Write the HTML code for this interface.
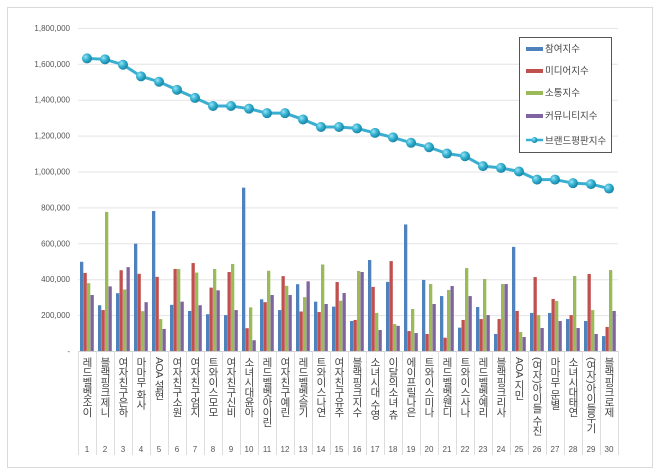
<!DOCTYPE html>
<html><head><meta charset="utf-8"><style>
body{margin:0;background:#fff;width:660px;height:475px;overflow:hidden;position:relative;font-family:"Liberation Sans","Noto Sans CJK KR",sans-serif}
.lb{position:absolute;top:357px;width:18px;height:88px;overflow:hidden;writing-mode:vertical-rl;text-orientation:mixed;font-size:10.5px;color:#444;line-height:18px;text-align:left;letter-spacing:-0.5px;font-family:"Liberation Sans","Noto Sans CJK KR",sans-serif}
</style></head><body>
<svg id="s" width="660" height="475" style="position:absolute;left:0;top:0" xmlns="http://www.w3.org/2000/svg">
<defs><radialGradient id="g" cx="35%" cy="35%" r="65%"><stop offset="0" stop-color="#9fe3f3"/><stop offset="0.5" stop-color="#35b3d3"/><stop offset="1" stop-color="#1b86a6"/></radialGradient></defs>
<rect x="7.5" y="7.5" width="645" height="460" fill="#fff" stroke="#d9d9d9"/>
<g id="grid"></g><g id="bars"></g><g id="line"></g>
<rect x="519.5" y="37.5" width="92" height="115" fill="#fff" stroke="#555"/>
<g font-size="9.5" fill="#444" font-family="Liberation Sans, Noto Sans CJK KR, sans-serif">
<rect x="526" y="47" width="17" height="4" fill="#4f81bd"/><text x="545" y="52">참여지수</text>
<rect x="526" y="69" width="17" height="4" fill="#c0504d"/><text x="545" y="74">미디어지수</text>
<rect x="526" y="91" width="17" height="4" fill="#9bbb59"/><text x="545" y="96">소통지수</text>
<rect x="526" y="114" width="17" height="4" fill="#8064a2"/><text x="545" y="119">커뮤니티지수</text>
<line x1="526" y1="140" x2="543" y2="140" stroke="#3aaed0" stroke-width="2.5"/><circle cx="534.5" cy="140" r="3" fill="url(#g)"/><text x="545" y="144">브랜드평판지수</text>
</g>
</svg>
<div id="labels"></div>
<script>
var ns="http://www.w3.org/2000/svg";
function el(p,t,a){var e=document.createElementNS(ns,t);for(var k in a)e.setAttribute(k,a[k]);document.getElementById(p).appendChild(e);return e;}
var y0=351,k=35.9/200;
function Y(v){return y0-v*k;}
var ticks=["-","200,000","400,000","600,000","800,000","1,000,000","1,200,000","1,400,000","1,600,000","1,800,000"];
for(var i=0;i<10;i++){var y=Y(i*200);
 if(i>0)el("grid","line",{x1:78,x2:618,y1:y+0.5,y2:y+0.5,stroke:"#e3e3e3"});
 var t=el("grid","text",{x:70,y:y+3,"text-anchor":"end","font-size":"8","fill":"#555"});t.textContent=ticks[i];}
el("grid","line",{x1:78,x2:618,y1:351.5,y2:351.5,stroke:"#d0d0d0"});
for(var c=0;c<=30;c++){var x=78+c*18;el("grid","line",{x1:x+0.5,x2:x+0.5,y1:351,y2:455,stroke:"#ddd"});}
var d=[[497,435,378,312],[255,228,775,360],[322,450,343,467],[598,430,222,272],[780,413,178,123],[257,457,457,275],[223,490,437,255],[205,353,457,338],[200,440,485,228],[910,127,243,60],[288,272,447,312],[228,417,363,312],[372,220,300,388],[275,217,482,262],[247,384,280,323],[167,173,446,440],[507,357,212,117],[385,501,150,140],[705,111,234,100],[396,95,373,262],[306,74,340,362],[130,173,462,306],[245,178,401,200],[95,178,373,373],[580,223,106,78],[212,412,200,128],[212,290,279,167],[178,200,418,128],[167,429,228,95],[83,134,451,223]];
var col=["#4f81bd","#c0504d","#9bbb59","#8064a2"];
for(var c=0;c<30;c++)for(var j=0;j<4;j++){var v=d[c][j];el("bars","rect",{x:78+c*18+2+j*3.5,y:Y(v),width:3.3,height:v*k,fill:col[j]});}
var L=[1630,1625,1595,1530,1500,1455,1410,1365,1365,1350,1325,1325,1290,1248,1248,1240,1215,1190,1160,1135,1100,1085,1030,1020,1000,955,955,935,930,905];
var pts=L.map(function(v,i){return (78+i*18+9)+","+Y(v)}).join(" ");
el("line","polyline",{points:pts,fill:"none",stroke:"#3aaed0","stroke-width":"3"});
L.forEach(function(v,i){el("line","circle",{cx:78+i*18+9,cy:Y(v),r:5,fill:"url(#g)"});});
var names=["레드벨벳조이","블랙핑크제니","여자친구은하","마마무 화사","AOA 설현","여자친구소원","여자친구엄지","트와이스모모","여자친구신비","소녀시대윤아","레드벨벳아이린","여자친구예린","레드벨벳슬기","트와이스나연","여자친구유주","블랙핑크지수","소녀시대 수영","이달의소녀 츄","에이프릴나은","트와이스미나","레드벨벳웬디","트와이스사나","레드벨벳예리","블랙핑크리사","AOA 지민","(여자)아이들 수진","마마무 문별","소녀시대태연","(여자)아이들우기","블랙핑크로제"];
var h="";
names.forEach(function(n,i){h+='<div class="lb" style="left:'+(78+i*18)+'px">'+n+'</div>';
 var t=el("grid","text",{x:78+i*18+9,y:452,"text-anchor":"middle","font-size":"8","fill":"#555"});t.textContent=i+1;});
document.getElementById("labels").innerHTML=h;
</script>
</body></html>
